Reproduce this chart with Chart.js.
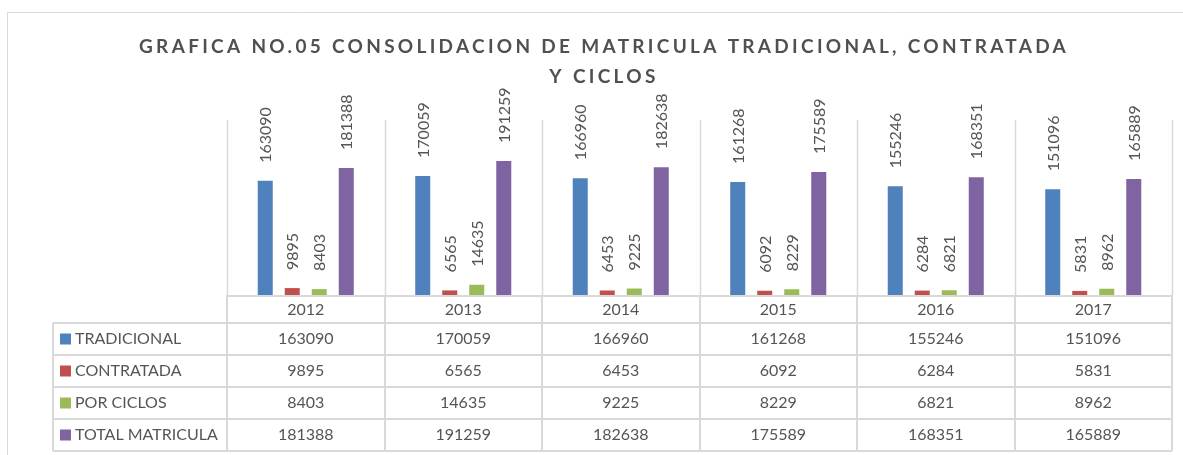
<!DOCTYPE html>
<html>
<head>
<meta charset="utf-8">
<script src="https://cdn.jsdelivr.net/npm/chart.js@4/dist/chart.umd.min.js"></script>
<style>
html,body{margin:0;padding:0;background:#fff;}
#wrap{width:1183px;height:455px;position:relative;}
</style>
</head>
<body>
<div id="wrap"><canvas id="c" width="1183" height="455"></canvas></div>
<script>
const titleLines = ['GRAFICA NO.05 CONSOLIDACION DE MATRICULA TRADICIONAL, CONTRATADA', 'Y CICLOS'];
const years = ['2012', '2013', '2014', '2015', '2016', '2017'];
const seriesNames = ['TRADICIONAL', 'CONTRATADA', 'POR CICLOS', 'TOTAL MATRICULA'];
const tradicional = [163090, 170059, 166960, 161268, 155246, 151096];
const contratada = [9895, 6565, 6453, 6092, 6284, 5831];
const porCiclos = [8403, 14635, 9225, 8229, 6821, 8962];
const totalMatricula = [181388, 191259, 182638, 175589, 168351, 165889];
const seriesColors = ['#4F81BD', '#C0504D', '#9BBB59', '#8064A2'];
const seriesValues = [tradicional, contratada, porCiclos, totalMatricula];

const TEXT = '#555555';
const GRID = '#D9D9D9';
const FONT = 'Lato, "Open Sans", sans-serif';

const decorPlugin = {
  id: 'decor',
  beforeDraw(chart) {
    const ctx = chart.ctx;
    ctx.save();
    ctx.fillStyle = '#fff';
    ctx.fillRect(0, 0, chart.width, chart.height);
    // outer frame
    ctx.strokeStyle = GRID;
    ctx.lineWidth = 1;
    ctx.beginPath();
    ctx.moveTo(7.5, chart.height + 2);
    ctx.lineTo(7.5, 12.5);
    ctx.lineTo(chart.width + 2, 12.5);
    ctx.stroke();
    // title
    ctx.fillStyle = '#505050';
    ctx.font = 'bold 19px ' + FONT;
    ctx.letterSpacing = '3.3px';
    ctx.textAlign = 'center';
    ctx.textBaseline = 'middle';
    ctx.fillText(titleLines[0], 604, 47);
    ctx.fillText(titleLines[1], 604, 77);
    ctx.letterSpacing = '0px';
    // vertical category separators in plot
    const xs = chart.scales.x;
    const area = chart.chartArea;
    const n = years.length;
    const bounds = [area.left];
    for (let i = 0; i < n - 1; i++) {
      bounds.push((xs.getPixelForValue(i) + xs.getPixelForValue(i + 1)) / 2);
    }
    bounds.push(area.right);
    chart.$bounds = bounds;
    ctx.strokeStyle = GRID;
    ctx.lineWidth = 1.5;
    ctx.beginPath();
    bounds.forEach(b => {
      const x = Math.round(b) + 0.5;
      ctx.moveTo(x, area.top);
      ctx.lineTo(x, area.bottom);
    });
    ctx.stroke();
    ctx.restore();
  },
  afterDatasetsDraw(chart) {
    const ctx = chart.ctx;
    ctx.save();
    ctx.fillStyle = TEXT;
    ctx.font = '16px ' + FONT;
    ctx.textAlign = 'left';
    ctx.textBaseline = 'middle';
    chart.data.datasets.forEach((ds, di) => {
      const meta = chart.getDatasetMeta(di);
      meta.data.forEach((bar, i) => {
        ctx.save();
        ctx.translate(bar.x + 1, bar.y - 18);
        ctx.rotate(-Math.PI / 2);
        ctx.fillText(String(ds.data[i]), 0, 0);
        ctx.restore();
      });
    });
    ctx.restore();
  },
  afterDraw(chart) {
    const ctx = chart.ctx;
    const area = chart.chartArea;
    const xs = chart.scales.x;
    const bounds = chart.$bounds;
    const tableLeft = 53;
    const yearTop = area.bottom;
    const rowH = 32;
    const yearBottom = yearTop + 28;
    const rows = seriesNames.length;
    const tableBottom = yearBottom + rows * rowH;
    ctx.save();
    ctx.strokeStyle = GRID;
    ctx.lineWidth = 2;
    ctx.beginPath();
    ctx.moveTo(area.left, yearTop + 1);
    ctx.lineTo(area.right, yearTop + 1);
    for (let r = 0; r <= rows; r++) {
      const y = yearBottom + r * rowH;
      ctx.moveTo(tableLeft, y);
      ctx.lineTo(area.right, y);
    }
    ctx.moveTo(tableLeft, yearBottom);
    ctx.lineTo(tableLeft, tableBottom);
    bounds.forEach(b => {
      ctx.moveTo(Math.round(b), yearTop);
      ctx.lineTo(Math.round(b), tableBottom);
    });
    ctx.stroke();
    ctx.fillStyle = TEXT;
    ctx.font = '16px ' + FONT;
    ctx.textBaseline = 'middle';
    ctx.textAlign = 'center';
    years.forEach((y, i) => {
      ctx.fillText(y, xs.getPixelForValue(i), (yearTop + yearBottom) / 2 + 1);
    });
    seriesNames.forEach((name, r) => {
      const cy = yearBottom + r * rowH + rowH / 2;
      ctx.fillStyle = seriesColors[r];
      ctx.fillRect(60, cy - 5.5, 11, 11);
      ctx.fillStyle = TEXT;
      ctx.textAlign = 'left';
      ctx.fillText(name, 75, cy);
      ctx.textAlign = 'center';
      seriesValues[r].forEach((v, i) => {
        ctx.fillText(String(v), xs.getPixelForValue(i), cy);
      });
    });
    ctx.restore();
  }
};

new Chart(document.getElementById('c'), {
  type: 'bar',
  data: {
    labels: years,
    datasets: seriesNames.map((name, i) => ({
      label: name,
      data: seriesValues[i],
      backgroundColor: seriesColors[i],
      borderWidth: 0,
      categoryPercentage: 0.686,
      barPercentage: 0.556
    }))
  },
  options: {
    responsive: false,
    animation: false,
    devicePixelRatio: 1,
    layout: { padding: { left: 227, right: 11, top: 120, bottom: 160 } },
    plugins: {
      legend: { display: false },
      title: { display: false },
      tooltip: { enabled: false }
    },
    scales: {
      x: { display: false },
      y: { display: false, min: 0, max: 250000 }
    }
  },
  plugins: [decorPlugin]
});
</script>
</body>
</html>
